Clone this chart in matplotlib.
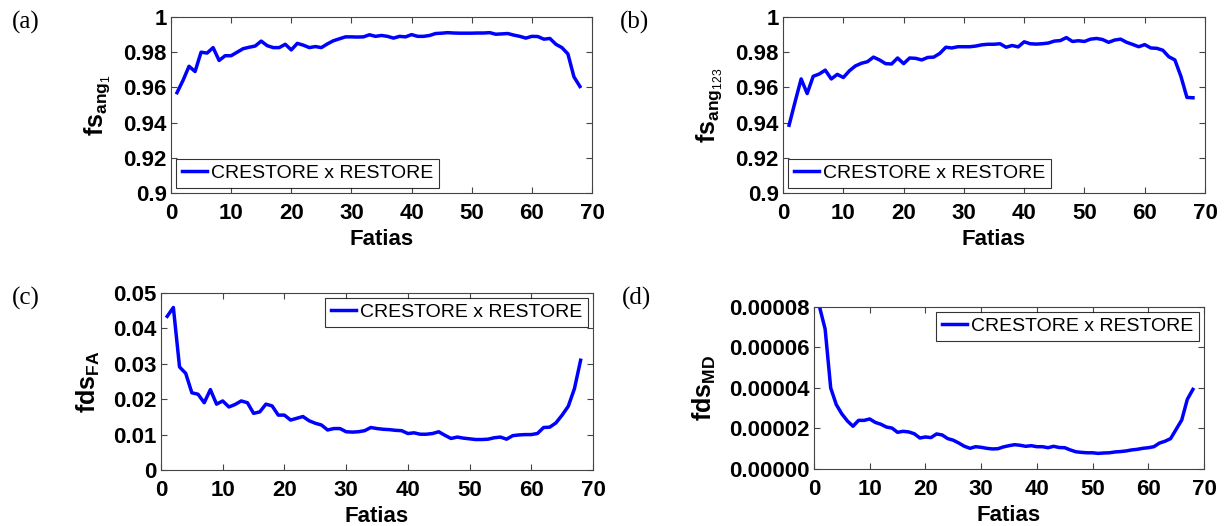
import numpy as np
import matplotlib
matplotlib.use("Agg")
import matplotlib.pyplot as plt
from matplotlib.ticker import FormatStrFormatter, MultipleLocator

plt.rcParams['font.family'] = ['Liberation Sans', 'DejaVu Sans']
plt.rcParams['mathtext.fontset'] = 'custom'
plt.rcParams['mathtext.rm'] = 'Liberation Sans'
plt.rcParams['mathtext.bf'] = 'Liberation Sans:bold'

# slice index (1..68)
fatias = np.arange(1, 69)

# fs_ang1: CRESTORE x RESTORE
fs_ang1 = [0.957, 0.964, 0.972, 0.969, 0.980, 0.9795, 0.9826, 0.9753, 0.978, 0.978,
           0.980, 0.982, 0.9828, 0.9835, 0.9863, 0.9837, 0.9826, 0.9826, 0.9845, 0.9813,
           0.985, 0.984, 0.9826, 0.9832, 0.9826, 0.9847, 0.9865, 0.9876, 0.9887, 0.9887,
           0.9886, 0.9887, 0.9899, 0.989, 0.9895, 0.989, 0.988, 0.989, 0.9887, 0.990,
           0.989, 0.989, 0.9895, 0.9906, 0.9908, 0.9911, 0.9909, 0.9908, 0.9908, 0.9908,
           0.9909, 0.9909, 0.9911, 0.9902, 0.9904, 0.9906, 0.9897, 0.989, 0.988, 0.9890,
           0.9889, 0.9874, 0.9878, 0.9845, 0.9826, 0.979, 0.966, 0.9605]

# fs_ang123: CRESTORE x RESTORE
fs_ang123 = [0.9385, 0.9519, 0.9648, 0.9565, 0.9663, 0.9676, 0.9698, 0.9648, 0.9674, 0.9656,
             0.9694, 0.9722, 0.9737, 0.9746, 0.9772, 0.9756, 0.9735, 0.9733, 0.9767, 0.9735,
             0.9767, 0.9765, 0.9756, 0.977, 0.9772, 0.9793, 0.9828, 0.9824, 0.9831, 0.9831,
             0.9831, 0.9835, 0.9842, 0.9845, 0.9845, 0.9848, 0.9828, 0.9838, 0.983, 0.9859,
             0.9848, 0.9846, 0.9848, 0.9852, 0.9863, 0.9866, 0.9883, 0.9861, 0.9865, 0.9861,
             0.9874, 0.9878, 0.9872, 0.9856, 0.9869, 0.9874, 0.9856, 0.9844, 0.9831, 0.9843,
             0.9824, 0.9822, 0.9811, 0.9774, 0.9756, 0.9663, 0.9543, 0.9541]

# fds_FA: CRESTORE x RESTORE
fds_fa = [0.0434, 0.0459, 0.0291, 0.0273, 0.0218, 0.0214, 0.0190, 0.0227, 0.0186, 0.0195,
          0.0178, 0.0185, 0.0195, 0.0190, 0.0160, 0.0164, 0.0186, 0.0181, 0.0155, 0.0155,
          0.0141, 0.0146, 0.0151, 0.0139, 0.0132, 0.0127, 0.0113, 0.0117, 0.0117, 0.0108,
          0.0107, 0.0108, 0.0111, 0.0120, 0.0117, 0.0115, 0.0114, 0.0112, 0.0111, 0.0103,
          0.0105, 0.0101, 0.0101, 0.0103, 0.0108, 0.0098, 0.0089, 0.0093, 0.0090, 0.0088,
          0.0086, 0.0086, 0.0087, 0.0091, 0.0093, 0.0087, 0.0097, 0.0099, 0.0100, 0.0100,
          0.0103, 0.0120, 0.0121, 0.0133, 0.0155, 0.0180, 0.0230, 0.0310]

# fds_MD: CRESTORE x RESTORE (units of 1e-5)
fds_md = [8.0, 6.91, 4.0, 3.18, 2.72, 2.37, 2.11, 2.40, 2.40, 2.47,
          2.30, 2.21, 2.07, 2.02, 1.81, 1.86, 1.83, 1.74, 1.53, 1.58,
          1.55, 1.73, 1.68, 1.50, 1.42, 1.28, 1.12, 1.02, 1.10, 1.07,
          1.02, 0.99, 1.00, 1.09, 1.15, 1.20, 1.17, 1.12, 1.15, 1.10,
          1.10, 1.05, 1.12, 1.06, 1.05, 0.94, 0.85, 0.82, 0.80, 0.80,
          0.77, 0.79, 0.80, 0.84, 0.86, 0.89, 0.94, 0.97, 1.02, 1.05,
          1.10, 1.28, 1.37, 1.50, 1.96, 2.42, 3.44, 3.93]
fds_md = np.array(fds_md) * 1e-5

legend_label = "CRESTORE x RESTORE"
fs = 16
edge = '#444444'

fig = plt.figure(figsize=(12.32, 5.26), dpi=100)

def style(ax, ylim, yfmt):
    ax.set_xlim(0, 70)
    ax.xaxis.set_major_locator(MultipleLocator(10))
    ax.set_ylim(*ylim)
    ax.yaxis.set_major_formatter(FormatStrFormatter(yfmt))
    ax.tick_params(direction='in', top=True, right=True, length=4,
                   width=0.8, color=edge, labelsize=fs)
    ax.tick_params(axis='x', pad=7)
    ax.tick_params(axis='y', pad=3)
    for lbl in ax.get_xticklabels() + ax.get_yticklabels():
        lbl.set_fontweight('bold')
    for sp in ax.spines.values():
        sp.set_color(edge)
        sp.set_linewidth(0.8)
    ax.set_xlabel('Fatias', fontsize=fs, fontweight='bold', labelpad=4)

def add_legend(ax, loc):
    leg = ax.legend(loc=loc, fontsize=14, frameon=True, fancybox=False,
                    edgecolor='black', borderaxespad=0.25, handlelength=1.3,
                    handletextpad=0.2, borderpad=0.3)
    leg.get_frame().set_linewidth(0.8)

# (a)
ax1 = fig.add_axes([0.1388, 0.6331, 0.3417, 0.3346])
ax1.plot(fatias, fs_ang1, color='#0000ff', lw=2.5, label=legend_label)
ax1.set_yticks(np.arange(0.9, 1.001, 0.02))
style(ax1, (0.9, 1.0), '%g')
ax1.set_ylabel(r'$\mathbf{fs}_{\mathbf{ang}_{\mathrm{1}}}$', fontsize=18, labelpad=8)
add_legend(ax1, 'lower left')

# (b)
ax2 = fig.add_axes([0.6356, 0.6331, 0.3425, 0.3346])
ax2.plot(fatias, fs_ang123, color='#0000ff', lw=2.5, label=legend_label)
ax2.set_yticks(np.arange(0.9, 1.001, 0.02))
style(ax2, (0.9, 1.0), '%g')
ax2.set_ylabel(r'$\mathbf{fs}_{\mathbf{ang}_{\mathrm{123}}}$', fontsize=18, labelpad=8)
add_legend(ax2, 'lower left')

# (c)
ax3 = fig.add_axes([0.1307, 0.1065, 0.3506, 0.3365])
ax3.plot(fatias, fds_fa, color='#0000ff', lw=2.5, label=legend_label)
ax3.set_yticks(np.arange(0, 0.0501, 0.01))
style(ax3, (0, 0.05), '%g')
ax3.set_ylabel(r'$\mathbf{fds}_{\mathbf{FA}}$', fontsize=18, labelpad=8)
add_legend(ax3, 'upper right')

# (d)
ax4 = fig.add_axes([0.6607, 0.1084, 0.3166, 0.308])
ax4.plot(fatias, fds_md, color='#0000ff', lw=2.5, label=legend_label)
ax4.set_yticks(np.arange(0, 0.0000801, 0.00002))
style(ax4, (0, 0.00008), '%.5f')
ax4.set_ylabel(r'$\mathbf{fds}_{\mathbf{MD}}$', fontsize=18, labelpad=8)
add_legend(ax4, 'upper right')

# panel tags
for tag, x, y in [('(a)', 12, 22), ('(b)', 620, 22), ('(c)', 12, 298), ('(d)', 622, 298)]:
    fig.text(x / 1232, 1 - y / 526, tag, fontsize=18, family='Liberation Serif',
             ha='left', va='center')

fig.savefig('out.png', dpi=100)
